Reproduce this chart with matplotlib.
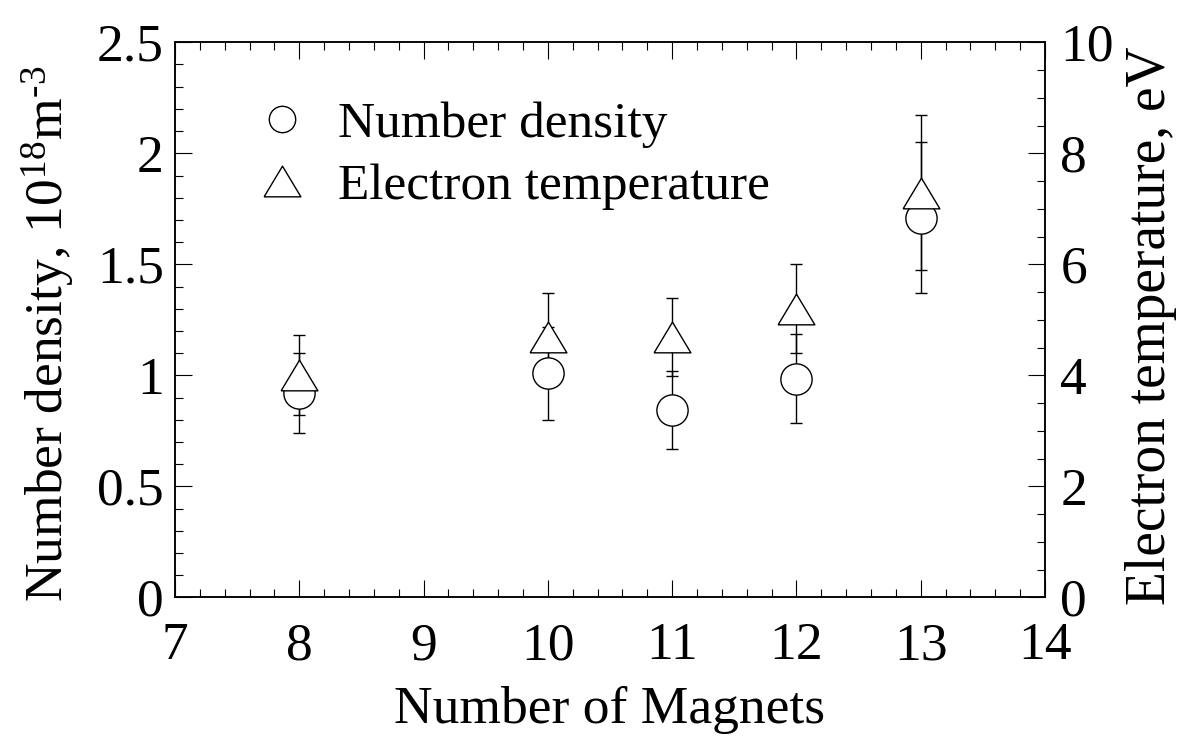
import numpy as np
import matplotlib
matplotlib.use("Agg")
import matplotlib.pyplot as plt
from matplotlib.ticker import MultipleLocator
from matplotlib.lines import Line2D

plt.rcParams['font.family'] = ['Liberation Serif', 'DejaVu Serif']
plt.rcParams['mathtext.fontset'] = 'custom'
plt.rcParams['mathtext.rm'] = 'Liberation Serif'
plt.rcParams['mathtext.it'] = 'Liberation Serif:italic'
plt.rcParams['font.size'] = 38.5

# data
magnets = [8, 10, 11, 12, 13]
density = [0.92, 1.01, 0.845, 0.985, 1.71]        # 10^18 m^-3
density_err = [0.18, 0.21, 0.175, 0.20, 0.34]
temperature = [4.0, 4.69, 4.69, 5.2, 7.29]        # eV
temperature_err = [0.72, 0.8, 0.7, 0.8, 1.4]

tri = [(-1.2, -1.0), (1.2, -1.0), (0.0, 1.0), (-1.2, -1.0)]

fig = plt.figure(figsize=(11.84, 7.38), dpi=100)
ax = fig.add_axes([0.1478, 0.1904, 0.7348, 0.7523])
ax2 = ax.twinx()

# error bars first, markers on top (white filled)
ax.errorbar(magnets, density, yerr=density_err, fmt='none', ecolor='black',
            elinewidth=1.0, capsize=4.5, capthick=1.0, zorder=2)
ax2.errorbar(magnets, temperature, yerr=temperature_err, fmt='none', ecolor='black',
             elinewidth=1.0, capsize=4.5, capthick=1.0, zorder=2)
ax2.plot(magnets, density, linestyle='none', marker='o', markersize=22.5,
         mfc='white', mec='black', mew=1.0, transform=ax.transData, zorder=3)
ax2.plot(magnets, temperature, linestyle='none', marker=tri, markersize=26.5,
         mfc='white', mec='black', mew=1.0, zorder=4)

ax.set_xlim(7, 14)
ax.set_ylim(0, 2.5)
ax2.set_ylim(0, 10)

ax.xaxis.set_major_locator(MultipleLocator(1))
ax.xaxis.set_minor_locator(MultipleLocator(0.2))
ax.yaxis.set_major_locator(MultipleLocator(0.5))
ax.yaxis.set_minor_locator(MultipleLocator(0.1))
ax2.yaxis.set_major_locator(MultipleLocator(2))
ax2.yaxis.set_minor_locator(MultipleLocator(0.5))

ax.yaxis.set_major_formatter(plt.FuncFormatter(lambda v, p: f"{v:g}"))
ax2.yaxis.set_major_formatter(plt.FuncFormatter(lambda v, p: f"{v:g}"))

ax.tick_params(axis='x', which='both', direction='in', top=True, bottom=True, pad=18)
ax.tick_params(axis='y', which='both', direction='in', left=True, right=False, pad=8)
ax2.tick_params(axis='y', which='both', direction='in', right=True, pad=11)
for a in (ax, ax2):
    a.tick_params(which='major', length=12, width=0.8)
    a.tick_params(which='minor', length=6, width=0.8)
    for s in a.spines.values():
        s.set_linewidth(1.1)

ax.set_xlabel('Number of Magnets', labelpad=11)
ax.set_ylabel(r'Number density, 10$^{18}$m$^{\text{-}3}$')
ax.yaxis.set_label_coords(-0.113, 0.475)
ax2.set_ylabel('Electron temperature, eV', fontsize=40)
ax2.yaxis.set_label_coords(1.092, 0.49)

handles = [
    Line2D([], [], linestyle='none', marker='o', markersize=19, mfc='white',
           mec='black', mew=1.0, label='Number density'),
    Line2D([], [], linestyle='none', marker=tri, markersize=26.5, mfc='white',
           mec='black', mew=1.0, label='Electron temperature'),
]
ax2.legend(handles=handles, loc='upper left', bbox_to_anchor=(0.04, 0.978),
           frameon=False, handlelength=1.0, handletextpad=0.6, labelspacing=0.3,
           fontsize=37)

fig.savefig('out.png', dpi=100)
